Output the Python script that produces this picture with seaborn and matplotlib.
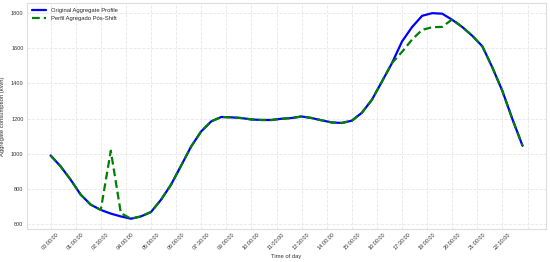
import numpy as np
import pandas as pd
import matplotlib
matplotlib.use("Agg")
import matplotlib.pyplot as plt
from matplotlib.ticker import FuncFormatter
import seaborn as sns

times = [f"{h:02d}:{m:02d}:00" for h in range(24) for m in (0, 30)]

original = [990, 928, 852, 767, 710, 680, 659, 643, 630, 643, 668, 738,
            824, 932, 1041, 1127, 1184, 1209, 1207, 1203, 1195, 1192, 1192, 1199,
            1203, 1212, 1203, 1190, 1178, 1175, 1188, 1233, 1307, 1411, 1516, 1639,
            1721, 1785, 1800, 1797, 1762, 1721, 1671, 1611, 1490, 1356, 1195, 1045]

shifted = [990, 928, 852, 767, 710, 680, 1017, 662, 630, 643, 668, 738,
           824, 932, 1041, 1127, 1184, 1209, 1207, 1203, 1195, 1192, 1192, 1199,
           1203, 1212, 1203, 1190, 1178, 1175, 1188, 1233, 1307, 1411, 1516, 1580,
           1650, 1705, 1720, 1722, 1765, 1721, 1671, 1611, 1490, 1356, 1195, 1045]

label_orig = "Original Aggregate Profile"
label_shift = "Perfil Agregado Pós-Shift"

df = pd.DataFrame({
    "idx": list(range(len(times))) * 2,
    "value": original + shifted,
    "series": [label_orig] * len(times) + [label_shift] * len(times),
})

sns.set_theme(style="whitegrid")
plt.rcParams['font.family'] = ['Liberation Sans', 'DejaVu Sans']

fig = plt.figure(figsize=(5.5, 2.62), dpi=100)
ax = fig.add_axes([0.049, 0.126, 0.944, 0.863])

sns.lineplot(data=df, x="idx", y="value", hue="series", style="series",
             palette={label_orig: "blue", label_shift: "green"},
             dashes={label_orig: "", label_shift: (3.5, 1.8)},
             linewidth=1.6, ax=ax)

ax.set_xticks(np.arange(0, len(times), 2.5))

def fmt(x, pos):
    i = int(round(x))
    if 0 <= i < len(times):
        return times[i]
    return ""

ax.xaxis.set_major_formatter(FuncFormatter(fmt))
ax.tick_params(axis="x", labelsize=4, rotation=45, pad=2, length=0, colors="#333333")
ax.tick_params(axis="y", labelsize=4, pad=2.5, length=0, colors="#333333")

ax.set_xlabel("Time of day", fontsize=4.2, color="#333333", labelpad=2)
ax.set_ylabel("Aggregate consumption (kWh)", fontsize=4.2, color="#333333", labelpad=4)

ax.grid(True, color="#e6e6e6", linewidth=0.6, linestyle="--")
for s in ax.spines.values():
    s.set_color("#dddddd")
    s.set_linewidth(0.8)

leg = ax.legend(loc="upper left", fontsize=4.2, frameon=False,
                handlelength=2.4, borderaxespad=0.5)

fig.savefig("out.png", dpi=100)
